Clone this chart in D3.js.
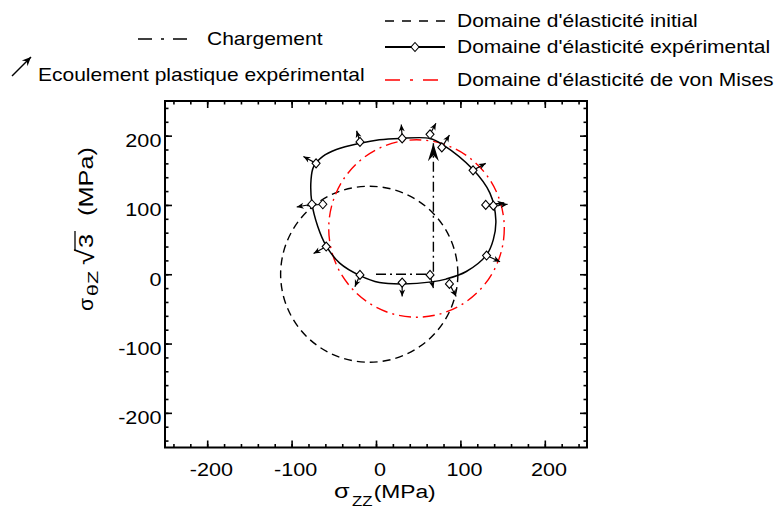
<!DOCTYPE html>
<html>
<head>
<meta charset="utf-8">
<script src="https://cdn.jsdelivr.net/npm/d3@7"></script>
<style>
  body { margin: 0; background: #fff; }
  text { font-family: "Liberation Sans", Arial, Helvetica, sans-serif; fill: #000; }
</style>
</head>
<body>
<div id="chart"></div>
<script>
// Tick labels
const xTicks = [-200, -100, 0, 100, 200];
const yTicks = [-200, -100, 0, 100, 200];
const minorTicks = d3.range(-240, 260, 20);

// Initial elastic domain (centre, radii in MPa)
const initialCenter = [-8, 0];
const initialRadii = [105, 127];

// von Mises elastic domain, translated
const misesCenter = [48, 66];
const misesRadii = [104, 128];

// Loading path
const loadingPath = [[0, 0], [68, 0], [68, 189]];

// Experimental elastic domain (smoothed contour)
const experimentalCurve = [
  [4, 194], [28, 196], [64, 196], [79, 187], [115, 151], [135, 117],
  [142, 78], [139, 50], [131, 28], [107, 4], [83, -7], [66, -11],
  [32, -14], [4, -12], [-19, -2], [-43, 16], [-59, 41], [-69, 69],
  [-76, 103], [-77, 136], [-74, 155], [-63, 170], [-47, 180], [-19, 189]
];

// Experimental points and plastic flow directions (arrow tips)
const expPoints = [
  [-19, 191], [31, 196], [64, 202], [78, 183], [115, 150], [130, 100],
  [139, 99], [131, 27], [87, -14], [64, -1], [31, -12], [-19, -1],
  [-59, 40], [-76, 101], [-63, 101], [-71, 160]
];
const flowTips = [
  [-23, 207], [30, 216], [71, 218], [87, 201], [130, 160], [152, 103],
  [156, 101], [147, 18], [95, -32], [68, -20], [31, -32], [-25, -18],
  [-74, 30], [-94, 97], [-82, 99], [-86, 170]
];

const width = 776;
const height = 511;
const stretch = 1.2;

const svg = d3.select('#chart')
  .append('svg')
  .attr('width', width)
  .attr('height', height);

const defs = svg.append('defs');
defs.append('marker')
  .attr('id', 'flowHead')
  .attr('markerUnits', 'userSpaceOnUse')
  .attr('viewBox', '-8 -4 8 8')
  .attr('markerWidth', 8)
  .attr('markerHeight', 8)
  .attr('refX', 0).attr('refY', 0)
  .attr('orient', 'auto')
  .append('path')
  .attr('d', 'M0,0 L-7,-3 L-5,0 L-7,3 Z')
  .attr('fill', '#000');
defs.append('marker')
  .attr('id', 'legendHead')
  .attr('markerUnits', 'userSpaceOnUse')
  .attr('viewBox', '-10 -5 10 10')
  .attr('markerWidth', 10)
  .attr('markerHeight', 10)
  .attr('refX', 0).attr('refY', 0)
  .attr('orient', 'auto')
  .append('path')
  .attr('d', 'M0,0 L-9,-4 L-6,0 L-9,4 Z')
  .attr('fill', '#000');
defs.append('marker')
  .attr('id', 'loadHead')
  .attr('markerUnits', 'userSpaceOnUse')
  .attr('viewBox', '-18 -6 18 12')
  .attr('markerWidth', 18)
  .attr('markerHeight', 12)
  .attr('refX', 0).attr('refY', 0)
  .attr('orient', 'auto')
  .append('path')
  .attr('d', 'M0,0 L-18,-5.5 L-12,0 L-18,5.5 Z')
  .attr('fill', '#000');

// Scales
const x = d3.scaleLinear().domain([-250, 250]).range([165, 587]);
const y = d3.scaleLinear().domain([-250, 250]).range([447.5, 101]);

// Axes: major and minor ticks on all four sides, pointing inward
function styleAxis(g) {
  g.select('.domain').remove();
  g.selectAll('line').attr('stroke', '#000').attr('stroke-width', 1.6);
  g.attr('font-size', null).attr('font-family', null);
}

svg.append('g')
  .attr('transform', `translate(0,${y(-250)})`)
  .call(d3.axisBottom(x).tickValues(minorTicks).tickSize(-3.5).tickFormat(''))
  .call(styleAxis);
svg.append('g')
  .attr('transform', `translate(0,${y(-250)})`)
  .call(d3.axisBottom(x).tickValues(xTicks).tickSize(-7).tickPadding(15.5).tickFormat(d => String(d)))
  .call(styleAxis)
  .selectAll('text')
  .style('font-size', '18px')
  .attr('dx', 3)
  .attr('transform', `scale(${stretch},1)`);

svg.append('g')
  .attr('transform', `translate(${x(-250)},0)`)
  .call(d3.axisLeft(y).tickValues(minorTicks).tickSize(-3.5).tickFormat(''))
  .call(styleAxis);
svg.append('g')
  .attr('transform', `translate(${x(-250)},0)`)
  .call(d3.axisLeft(y).tickValues(yTicks).tickSize(-7).tickPadding(3).tickFormat(d => String(d)))
  .call(styleAxis)
  .selectAll('text')
  .style('font-size', '18px')
  .attr('dy', '0.6em')
  .attr('transform', `scale(${stretch},1)`);

svg.append('g')
  .attr('transform', `translate(0,${y(250)})`)
  .call(d3.axisTop(x).tickValues(minorTicks).tickSize(-3.5).tickFormat(''))
  .call(styleAxis);
svg.append('g')
  .attr('transform', `translate(0,${y(250)})`)
  .call(d3.axisTop(x).tickValues(xTicks).tickSize(-7).tickFormat(''))
  .call(styleAxis);
svg.append('g')
  .attr('transform', `translate(${x(250)},0)`)
  .call(d3.axisRight(y).tickValues(minorTicks).tickSize(-3.5).tickFormat(''))
  .call(styleAxis);
svg.append('g')
  .attr('transform', `translate(${x(250)},0)`)
  .call(d3.axisRight(y).tickValues(yTicks).tickSize(-7).tickFormat(''))
  .call(styleAxis);

// Frame
svg.append('rect')
  .attr('x', x(-250))
  .attr('y', y(250))
  .attr('width', x(250) - x(-250))
  .attr('height', y(-250) - y(250))
  .attr('fill', 'none')
  .attr('stroke', '#000')
  .attr('stroke-width', 2);

const plot = svg.append('g');

// Initial elastic domain
plot.append('ellipse')
  .attr('cx', x(initialCenter[0]))
  .attr('cy', y(initialCenter[1]))
  .attr('rx', x(initialRadii[0]) - x(0))
  .attr('ry', y(0) - y(initialRadii[1]))
  .attr('fill', 'none')
  .attr('stroke', '#000')
  .attr('stroke-width', 1.4)
  .attr('stroke-dasharray', '8,5');

// von Mises domain
plot.append('ellipse')
  .attr('cx', x(misesCenter[0]))
  .attr('cy', y(misesCenter[1]))
  .attr('rx', x(misesRadii[0]) - x(0))
  .attr('ry', y(0) - y(misesRadii[1]))
  .attr('fill', 'none')
  .attr('stroke', '#ff0000')
  .attr('stroke-width', 1.4)
  .attr('stroke-dasharray', '12,5,2,5');

// Loading path
const line = d3.line().x(d => x(d[0])).y(d => y(d[1]));
plot.append('path')
  .attr('d', line(loadingPath))
  .attr('fill', 'none')
  .attr('stroke', '#000')
  .attr('stroke-width', 1.4)
  .attr('stroke-dasharray', '10,4,2,4')
  .attr('marker-end', 'url(#loadHead)');

// Experimental domain
plot.append('path')
  .attr('d', line.curve(d3.curveCatmullRomClosed.alpha(0.5))(experimentalCurve))
  .attr('fill', 'none')
  .attr('stroke', '#000')
  .attr('stroke-width', 1.5);

// Plastic flow arrows
plot.selectAll('.flow')
  .data(expPoints)
  .enter()
  .append('line')
  .attr('class', 'flow')
  .attr('x1', d => x(d[0]))
  .attr('y1', d => y(d[1]))
  .attr('x2', (d, i) => x(flowTips[i][0]))
  .attr('y2', (d, i) => y(flowTips[i][1]))
  .attr('stroke', '#000')
  .attr('stroke-width', 1.2)
  .attr('marker-end', 'url(#flowHead)');

// Experimental points
const diamond = 'M0,-4.5 L4,0 L0,4.5 L-4,0 Z';
plot.selectAll('.pt')
  .data(expPoints)
  .enter()
  .append('path')
  .attr('class', 'pt')
  .attr('d', diamond)
  .attr('transform', d => `translate(${x(d[0])},${y(d[1])})`)
  .attr('fill', '#fff')
  .attr('stroke', '#000')
  .attr('stroke-width', 1.1);

// Axis titles
const xTitle = svg.append('text')
  .attr('transform', `translate(334,498) scale(${stretch},1)`)
  .style('font-size', '19px');
xTitle.append('tspan').style('font-size', '21px').text('σ');
xTitle.append('tspan').attr('dx', 2).attr('dy', 8).style('font-size', '14px').text('ZZ');
xTitle.append('tspan').attr('dx', 1).attr('dy', -8).text('(MPa)');

const yTitle = svg.append('g')
  .attr('transform', 'translate(93,311) rotate(-90)');
yTitle.append('text').attr('x', 0).attr('textLength', 13).attr('lengthAdjust', 'spacingAndGlyphs')
  .style('font-size', '21px').text('σ');
yTitle.append('text').attr('x', 15).attr('y', 5).attr('textLength', 25).attr('lengthAdjust', 'spacingAndGlyphs')
  .style('font-size', '15px').text('θZ');
yTitle.append('text').attr('x', 46).attr('y', 1).attr('textLength', 16).attr('lengthAdjust', 'spacingAndGlyphs')
  .style('font-size', '25px').text('√');
yTitle.append('text').attr('x', 63).attr('textLength', 14).attr('lengthAdjust', 'spacingAndGlyphs')
  .style('font-size', '20px').text('3');
yTitle.append('line')
  .attr('x1', 60).attr('x2', 80).attr('y1', -18).attr('y2', -18)
  .attr('stroke', '#000').attr('stroke-width', 1.3);
yTitle.append('text').attr('x', 95).attr('textLength', 69).attr('lengthAdjust', 'spacingAndGlyphs')
  .style('font-size', '20px').text('(MPa)');

// Legend
const legend = svg.append('g').attr('class', 'legend');
function legendText(tx, ty, label) {
  legend.append('text')
    .attr('transform', `translate(${tx},${ty}) scale(${stretch},1)`)
    .style('font-size', '17.5px')
    .text(label);
}

legend.append('line')
  .attr('x1', 138).attr('x2', 190).attr('y1', 39).attr('y2', 39)
  .attr('stroke', '#000').attr('stroke-width', 1.5)
  .attr('stroke-dasharray', '14,9,3,9');
legendText(207, 45, 'Chargement');

legend.append('line')
  .attr('x1', 12).attr('y1', 76).attr('x2', 31).attr('y2', 57)
  .attr('stroke', '#000').attr('stroke-width', 1.5)
  .attr('marker-end', 'url(#legendHead)');
legendText(38, 81, 'Ecoulement plastique expérimental');

legend.append('line')
  .attr('x1', 385).attr('x2', 447).attr('y1', 21).attr('y2', 21)
  .attr('stroke', '#000').attr('stroke-width', 1.4)
  .attr('stroke-dasharray', '9,8');
legendText(457, 27, "Domaine d'élasticité initial");

legend.append('line')
  .attr('x1', 385).attr('x2', 445).attr('y1', 47).attr('y2', 47)
  .attr('stroke', '#000').attr('stroke-width', 1.8);
legend.append('path')
  .attr('d', diamond)
  .attr('transform', 'translate(415,47)')
  .attr('fill', '#fff').attr('stroke', '#000').attr('stroke-width', 1.1);
legendText(457, 53, "Domaine d'élasticité expérimental");

legend.append('line')
  .attr('x1', 385).attr('x2', 445).attr('y1', 80).attr('y2', 80)
  .attr('stroke', '#ff0000').attr('stroke-width', 1.5)
  .attr('stroke-dasharray', '15,10,3,10');
legendText(457, 86, "Domaine d'élasticité de von Mises");
</script>
</body>
</html>
